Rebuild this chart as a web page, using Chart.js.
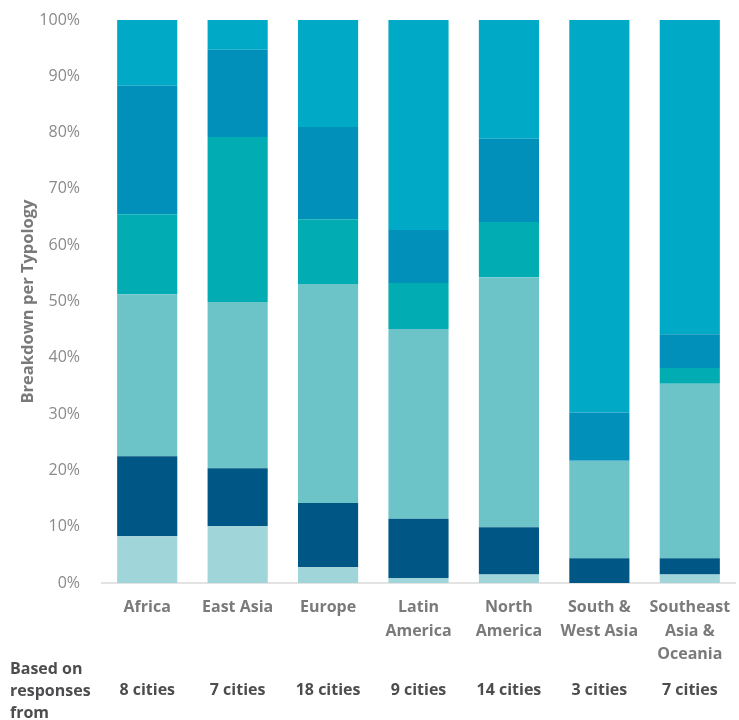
<!DOCTYPE html>
<html lang="en">
    <head>
        <meta charset="UTF-8" />
        <title>Breakdown per Typology</title>
        <script src="https://cdn.jsdelivr.net/npm/chart.js@4.4.1/dist/chart.umd.min.js"></script>
        <style>
            body { margin: 0; background: #fff; }
        </style>
    </head>
    <body>
        <canvas id="mychart" width="739" height="720"></canvas>
        <script>
            // regions along the x axis, one label line per array entry
            const regions = [
                ["Africa"],
                ["East Asia"],
                ["Europe"],
                ["Latin", "America"],
                ["North", "America"],
                ["South &", "West Asia"],
                ["Southeast", "Asia &", "Oceania"]
            ];
            const cityCounts = ["8 cities", "7 cities", "18 cities", "9 cities", "14 cities", "3 cities", "7 cities"];

            // share of each typology per region (%), stacked bottom to top
            const typeA = [8.3, 10.1, 2.8, 0.9, 1.5, 0, 1.5];
            const typeB = [14.2, 10.3, 11.4, 10.5, 8.4, 4.4, 2.9];
            const typeC = [28.8, 29.5, 38.9, 33.7, 44.4, 17.3, 31.0];
            const typeD = [14.2, 29.3, 11.5, 8.2, 9.8, 0, 2.8];
            const typeE = [22.8, 15.5, 16.4, 9.4, 14.8, 8.6, 6.0];
            const typeF = [11.7, 5.3, 19.0, 37.3, 21.1, 69.7, 55.8];

            const yTicks = [0, 10, 20, 30, 40, 50, 60, 70, 80, 90, 100];

            const font = "'Open Sans', 'Noto Sans', sans-serif";

            const footerRow = {
                id: "footerRow",
                afterDraw(chart) {
                    const c = chart.ctx;
                    const x = chart.scales.x;
                    c.save();
                    c.fillStyle = "#4d4d4f";
                    c.font = "bold 16px " + font;
                    c.textBaseline = "middle";
                    c.textAlign = "left";
                    ["Based on", "responses", "from"].forEach((t, i) => {
                        c.fillText(t, 10, 669 + i * 22);
                    });
                    c.textAlign = "center";
                    cityCounts.forEach((t, i) => {
                        c.fillText(t, x.getPixelForValue(i), 690);
                    });
                    c.restore();
                }
            };

            function ds(label, data, color) {
                return {
                    label: label,
                    data: data,
                    backgroundColor: color,
                    borderWidth: 0,
                    barPercentage: 0.665,
                    categoryPercentage: 1
                };
            }

            const ctx = document.getElementById("mychart").getContext("2d");
            const myChart = new Chart(ctx, {
                type: "bar",
                data: {
                    labels: regions,
                    datasets: [
                        ds("A", typeA, "#a0d5d9"),
                        ds("B", typeB, "#005786"),
                        ds("C", typeC, "#6cc4c9"),
                        ds("D", typeD, "#01adb2"),
                        ds("E", typeE, "#0190ba"),
                        ds("F", typeF, "#00aac7")
                    ]
                },
                options: {
                    responsive: false,
                    animation: false,
                    layout: { padding: { left: 12, top: 20, right: 4, bottom: 0 } },
                    plugins: {
                        legend: { display: false },
                        tooltip: { enabled: false }
                    },
                    scales: {
                        x: {
                            stacked: true,
                            grid: { display: false },
                            border: { display: true, color: "#e3e3e3", width: 2 },
                            ticks: {
                                color: "#7a7a7a",
                                font: { family: font, size: 16, weight: "bold", lineHeight: 1.47 },
                                padding: 5,
                                maxRotation: 0,
                                autoSkip: false
                            },
                            afterFit(scale) { scale.height = 137; }
                        },
                        y: {
                            stacked: true,
                            min: 0,
                            max: 100,
                            afterBuildTicks(scale) {
                                scale.ticks = yTicks.map(v => ({ value: v }));
                            },
                            grid: { display: false },
                            border: { display: false },
                            ticks: {
                                color: "#8a8a8a",
                                font: { family: font, size: 16 },
                                padding: 14,
                                callback: v => v + "%"
                            },
                            title: {
                                display: true,
                                text: "Breakdown per Typology",
                                color: "#7a7a7a",
                                font: { family: font, size: 16.5, weight: "bold" },
                                padding: { top: 6, bottom: 0 }
                            },
                            afterFit(scale) {
                                scale.width = 90;
                                // keep the tick padding from pushing the plot down
                                scale.paddingTop = 0;
                                scale.paddingBottom = 0;
                            }
                        }
                    }
                },
                plugins: [footerRow]
            });
        </script>
    </body>
</html>
